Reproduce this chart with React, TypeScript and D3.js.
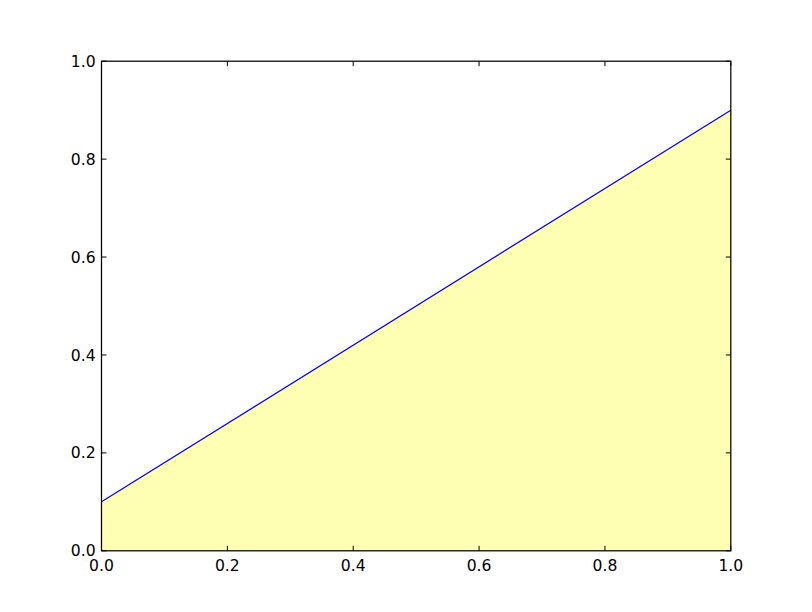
import { useEffect, useRef } from "react"
import * as d3 from "d3"

// line endpoints
const xValues = [0, 1]
const yValues = [0.1, 0.9]
const xTicks = [0, 0.2, 0.4, 0.6, 0.8, 1.0]
const yTicks = [0, 0.2, 0.4, 0.6, 0.8, 1.0]

export default function App() {
  const svgRef = useRef<SVGSVGElement>(null)

  useEffect(() => {
    if (!svgRef.current) return
    d3.select(svgRef.current).selectAll("*").remove()

    const W = 812
    const H = 612
    const left = 101.5
    const right = 730.8
    const top = 61.2
    const bottom = 550.8

    const svg = d3.select(svgRef.current).attr("width", W).attr("height", H)
    svg.append("rect").attr("width", W).attr("height", H).attr("fill", "white")

    const x = d3.scaleLinear().domain([0, 1]).range([left, right])
    const y = d3.scaleLinear().domain([0, 1]).range([bottom, top])

    const pts = xValues.map((v, i) => ({ x: v, y: yValues[i] }))

    // yellow fill under the line
    const area = d3
      .area<{ x: number; y: number }>()
      .x((d) => x(d.x))
      .y0(y(0))
      .y1((d) => y(d.y))
    svg.append("path").datum(pts).attr("d", area).attr("fill", "#ffffb3")

    const line = d3
      .line<{ x: number; y: number }>()
      .x((d) => x(d.x))
      .y((d) => y(d.y))
    svg
      .append("path")
      .datum(pts)
      .attr("d", line)
      .attr("fill", "none")
      .attr("stroke", "#0000ff")
      .attr("stroke-width", 1.25)

    const font = "DejaVu Sans, sans-serif"
    const fs = "15.6px"
    const tickLen = 5

    // ticks, inward on all four sides
    const tg = svg.append("g").attr("stroke", "black").attr("stroke-width", 1)
    xTicks.forEach((t) => {
      tg.append("line").attr("x1", x(t)).attr("x2", x(t)).attr("y1", bottom).attr("y2", bottom - tickLen)
      tg.append("line").attr("x1", x(t)).attr("x2", x(t)).attr("y1", top).attr("y2", top + tickLen)
    })
    yTicks.forEach((t) => {
      tg.append("line").attr("x1", left).attr("x2", left + tickLen).attr("y1", y(t)).attr("y2", y(t))
      tg.append("line").attr("x1", right).attr("x2", right - tickLen).attr("y1", y(t)).attr("y2", y(t))
    })

    svg
      .append("g")
      .selectAll("text")
      .data(xTicks)
      .enter()
      .append("text")
      .attr("x", (d) => x(d))
      .attr("y", bottom + 20.4)
      .attr("text-anchor", "middle")
      .style("font-family", font)
      .style("font-size", fs)
      .text((d) => d.toFixed(1))

    svg
      .append("g")
      .selectAll("text")
      .data(yTicks)
      .enter()
      .append("text")
      .attr("x", left - 5.9)
      .attr("y", (d) => y(d) + 5.6)
      .attr("text-anchor", "end")
      .style("font-family", font)
      .style("font-size", fs)
      .text((d) => d.toFixed(1))

    // axes frame
    svg
      .append("rect")
      .attr("x", left)
      .attr("y", top)
      .attr("width", right - left)
      .attr("height", bottom - top)
      .attr("fill", "none")
      .attr("stroke", "black")
      .attr("stroke-width", 1.25)
  }, [])

  return <svg ref={svgRef} style={{ position: "absolute", left: 0, top: 0 }}></svg>
}
